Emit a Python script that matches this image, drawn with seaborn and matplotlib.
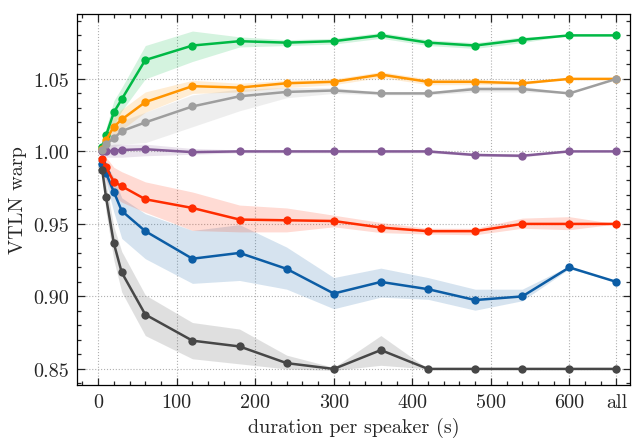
import matplotlib
matplotlib.use("Agg")
import matplotlib.pyplot as plt
import matplotlib.ticker as mtick
import pandas as pd
import seaborn as sns

# durations per speaker (s); the last point is "all", drawn at 660
duracao = [5, 10, 20, 30, 60, 120, 180, 240, 300, 360, 420, 480, 540, 600, 660]
rotulos_x = ["0", "100", "200", "300", "400", "500", "600", "all"]
posicoes_x = [0, 100, 200, 300, 400, 500, 600, 660]

verde = [1.003, 1.011, 1.027, 1.036, 1.063, 1.073, 1.076, 1.075, 1.076, 1.080, 1.075, 1.073, 1.077, 1.080, 1.080]
verde_lo = [1.000, 1.007, 1.018, 1.028, 1.050, 1.062, 1.072, 1.073, 1.074, 1.078, 1.073, 1.071, 1.075, 1.080, 1.080]
verde_hi = [1.006, 1.016, 1.035, 1.044, 1.073, 1.083, 1.079, 1.077, 1.078, 1.082, 1.077, 1.075, 1.079, 1.080, 1.080]

laranja = [1.002, 1.008, 1.017, 1.022, 1.034, 1.045, 1.044, 1.047, 1.048, 1.053, 1.048, 1.048, 1.047, 1.050, 1.050]
laranja_lo = [0.999, 1.004, 1.010, 1.015, 1.027, 1.040, 1.041, 1.044, 1.046, 1.051, 1.046, 1.046, 1.046, 1.050, 1.050]
laranja_hi = [1.005, 1.012, 1.024, 1.029, 1.041, 1.049, 1.047, 1.049, 1.050, 1.055, 1.050, 1.050, 1.048, 1.050, 1.050]

cinza = [1.001, 1.005, 1.009, 1.014, 1.020, 1.031, 1.038, 1.041, 1.042, 1.040, 1.040, 1.043, 1.043, 1.040, 1.050]
cinza_lo = [0.998, 1.001, 1.003, 1.005, 1.006, 1.017, 1.028, 1.037, 1.040, 1.039, 1.039, 1.041, 1.041, 1.040, 1.050]
cinza_hi = [1.004, 1.009, 1.015, 1.021, 1.027, 1.039, 1.043, 1.044, 1.044, 1.041, 1.041, 1.045, 1.045, 1.040, 1.050]

roxo = [1.000, 1.000, 1.0005, 1.001, 1.0015, 0.9995, 1.000, 1.000, 1.000, 1.000, 1.000, 0.9975, 0.997, 1.000, 1.000]
roxo_lo = [0.997, 0.996, 0.996, 0.996, 0.997, 0.998, 0.999, 0.999, 0.999, 0.999, 0.999, 0.997, 0.996, 1.000, 1.000]
roxo_hi = [1.003, 1.004, 1.005, 1.005, 1.005, 1.002, 1.001, 1.001, 1.001, 1.001, 1.001, 0.999, 0.998, 1.000, 1.000]

vermelho = [0.995, 0.989, 0.979, 0.976, 0.967, 0.961, 0.953, 0.9525, 0.952, 0.9475, 0.945, 0.945, 0.950, 0.950, 0.950]
vermelho_lo = [0.991, 0.980, 0.969, 0.965, 0.958, 0.9455, 0.9445, 0.9445, 0.948, 0.944, 0.943, 0.9425, 0.947, 0.946, 0.950]
vermelho_hi = [0.999, 0.996, 0.989, 0.986, 0.979, 0.972, 0.963, 0.961, 0.956, 0.951, 0.947, 0.947, 0.954, 0.955, 0.950]

azul = [0.991, 0.985, 0.972, 0.959, 0.945, 0.926, 0.930, 0.919, 0.902, 0.910, 0.905, 0.8975, 0.900, 0.920, 0.910]
azul_lo = [0.988, 0.979, 0.958, 0.940, 0.926, 0.909, 0.911, 0.905, 0.8915, 0.8995, 0.898, 0.8905, 0.897, 0.919, 0.910]
azul_hi = [0.994, 0.991, 0.982, 0.968, 0.957, 0.9455, 0.9495, 0.934, 0.913, 0.9195, 0.913, 0.905, 0.905, 0.921, 0.910]

escuro = [0.9875, 0.9685, 0.9365, 0.9165, 0.8875, 0.8695, 0.8655, 0.854, 0.850, 0.863, 0.850, 0.850, 0.850, 0.850, 0.850]
escuro_lo = [0.984, 0.958, 0.925, 0.903, 0.873, 0.857, 0.8535, 0.850, 0.849, 0.8525, 0.850, 0.850, 0.850, 0.850, 0.850]
escuro_hi = [0.991, 0.978, 0.948, 0.931, 0.901, 0.882, 0.8775, 0.8595, 0.851, 0.873, 0.850, 0.850, 0.850, 0.850, 0.850]

series = {
    "azul": (azul, azul_lo, azul_hi, "#0C5DA5"),
    "verde": (verde, verde_lo, verde_hi, "#00B945"),
    "laranja": (laranja, laranja_lo, laranja_hi, "#FF9500"),
    "vermelho": (vermelho, vermelho_lo, vermelho_hi, "#FF2C00"),
    "roxo": (roxo, roxo_lo, roxo_hi, "#845B97"),
    "escuro": (escuro, escuro_lo, escuro_hi, "#474747"),
    "cinza": (cinza, cinza_lo, cinza_hi, "#9e9e9e"),
}

sns.set_style("ticks")
plt.rcParams["font.family"] = ["cmr10", "DejaVu Serif"]
plt.rcParams["mathtext.fontset"] = "cm"
plt.rcParams["axes.formatter.use_mathtext"] = True
plt.rcParams["font.size"] = 14.5

linhas = []
for nome, (vals, lo, hi, cor) in series.items():
    for x, y in zip(duracao, vals):
        linhas.append({"duracao": x, "warp": y, "serie": nome})
df = pd.DataFrame(linhas)

fig = plt.figure(figsize=(6.33, 4.39), dpi=100)
ax = fig.add_axes([0.1216, 0.121, 0.8734, 0.845])

# faixas de incerteza
for nome, (vals, lo, hi, cor) in series.items():
    ax.fill_between(duracao, lo, hi, color=cor, alpha=0.17, linewidth=0)

sns.lineplot(
    data=df,
    x="duracao",
    y="warp",
    hue="serie",
    palette={k: v[3] for k, v in series.items()},
    marker="o",
    markersize=6,
    markeredgewidth=0,
    linewidth=1.8,
    errorbar=None,
    legend=False,
    sort=False,
    ax=ax,
)

ax.set_xlim(-27, 677)
ax.set_ylim(0.839, 1.0948)
ax.set_xticks(posicoes_x)
ax.set_xticklabels(rotulos_x)
ax.xaxis.set_minor_locator(mtick.MultipleLocator(20))
ax.set_yticks([0.85, 0.90, 0.95, 1.00, 1.05])
ax.yaxis.set_major_formatter(mtick.FormatStrFormatter("%.2f"))
ax.yaxis.set_minor_locator(mtick.MultipleLocator(0.01))

ax.tick_params(which="both", direction="in", top=True, right=True, width=0.9, labelsize=14.5)
ax.tick_params(which="major", length=5.4, pad=6)
ax.tick_params(which="minor", length=2.7)
for sp in ax.spines.values():
    sp.set_linewidth(0.9)
    sp.set_color("black")

ax.grid(True, which="major", linestyle=":", color="#b0b0b0", linewidth=0.8)
ax.set_axisbelow(True)

ax.set_xlabel("duration per speaker (s)", fontsize=14.5)
ax.set_ylabel("VTLN warp", fontsize=14.5)

fig.savefig("out.png", dpi=100)
